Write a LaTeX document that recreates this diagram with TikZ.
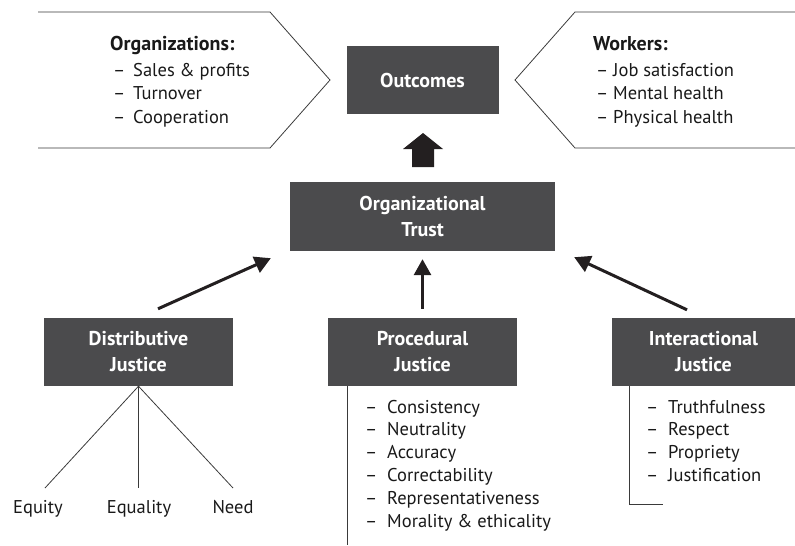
\documentclass[tikz,border=0pt]{standalone}
\usepackage{fontspec}
\setmainfont{PT Sans}
\usetikzlibrary{arrows.meta,calc}
\definecolor{boxgray}{HTML}{4B4B4D}
\definecolor{inkblack}{HTML}{231F20}
\definecolor{linegray}{HTML}{3A3A3A}
\tikzset{
  darkbox/.style={fill=boxgray, text=white, font=\fontsize{20}{26}\selectfont\bfseries, align=center, inner sep=0pt},
  thinline/.style={draw=linegray, line width=0.8pt},
  bigarrow/.style={draw=inkblack, line width=3pt, -{Triangle[length=16pt,width=17pt]}},
  listtext/.style={font=\fontsize{18.5}{23}\selectfont, anchor=base west, inner sep=0pt, text=black!90},
  leaftext/.style={font=\fontsize{18.5}{23}\selectfont, anchor=base, inner sep=0pt, text=black!90},
  headtext/.style={font=\fontsize{20}{23}\selectfont\bfseries, anchor=base west, inner sep=0pt, text=black!90},
}
\begin{document}
\begin{tikzpicture}[x=1pt,y=-1pt]
\useasboundingbox (0,0) rectangle (795,546);
% pentagons
\draw[thinline] (38,12) -- (270,12) -- (330,80) -- (270,148) -- (38,148);
\draw[thinline] (795,12) -- (575,12) -- (515,80) -- (575,148) -- (795,148);
% boxes
\node[darkbox, minimum width=152pt, minimum height=68pt] (out) at (422.5,80) {Outcomes};
\node[darkbox, minimum width=265pt, minimum height=69pt] (trust) at (422.5,216.5) {Organizational\\Trust};
\node[darkbox, minimum width=189pt, minimum height=68pt] (dist) at (138.5,352) {Distributive\\Justice};
\node[darkbox, minimum width=189pt, minimum height=68pt] (proc) at (422.5,352) {Procedural\\Justice};
\node[darkbox, minimum width=183pt, minimum height=68pt] (inter) at (703.5,352) {Interactional\\Justice};
% block arrow
\fill[inkblack] (412,167) -- (412,149) -- (403,149) -- (423,133) -- (443,149) -- (434,149) -- (434,167) -- cycle;
% thin arrows
\draw[bigarrow] ([xshift=19.5pt,yshift=9pt]dist.north) -- ([xshift=-19pt,yshift=-7pt]trust.south west);
\draw[bigarrow] ([yshift=9pt]proc.north) -- ([yshift=-8pt]trust.south);
\draw[bigarrow] ([xshift=-16.5pt,yshift=8pt]inter.north) -- ([xshift=19pt,yshift=-6pt]trust.south east);
% left text
\node[headtext] (orgh) at (110,50) {Organizations:};
\node[listtext] (o1d) at (113,76) {–};
\node[listtext] (o1) at (133,76) {Sales \& profits};
\node[listtext] (o2d) at (113,99.5) {–};
\node[listtext] (o2) at (133,99.5) {Turnover};
\node[listtext] (o3d) at (113,123) {–};
\node[listtext] (o3) at (133,123) {Cooperation};
% right text
\node[headtext] (wrkh) at (593,50) {Workers:};
\node[listtext] (w1d) at (596,76) {–};
\node[listtext] (w1) at (613,76) {Job satisfaction};
\node[listtext] (w2d) at (596,99.5) {–};
\node[listtext] (w2) at (613,99.5) {Mental health};
\node[listtext] (w3d) at (596,123) {–};
\node[listtext] (w3) at (613,123) {Physical health};
% distributive tree
\node[leaftext] (equity) at (38,513) {Equity};
\node[leaftext] (equality) at (139,513) {Equality};
\node[leaftext] (need) at (233,513) {Need};
\coordinate (e1) at (45,488);
\coordinate (e2) at (138.5,488);
\coordinate (e3) at (233,488);
\draw[thinline] (e1) -- (dist.south) -- (e3);
\draw[thinline] (dist.south) -- (e2);
% procedural list
\coordinate (pend) at (347,545);
\draw[thinline] (proc.south west -| pend) -- (pend);
\foreach \t [count=\i] in {Consistency,Neutrality,Accuracy,Correctability,Representativeness,Morality \& ethicality}{
  \node[listtext] (pd\i) at (365,{413+22.8*(\i-1)}) {–};
  \node[listtext] (p\i) at (387,{413+22.8*(\i-1)}) {\t};
}
% interactional list
\coordinate (icorner) at (629,504);
\coordinate (iend) at (663,504);
\draw[thinline] (inter.south west -| icorner) -- (icorner) -- (iend);
\foreach \t [count=\i] in {Truthfulness,Respect,Propriety,Justification}{
  \node[listtext] (id\i) at (646,{413+22.8*(\i-1)}) {–};
  \node[listtext] (i\i) at (668,{413+22.8*(\i-1)}) {\t};
}
\end{tikzpicture}
\end{document}
